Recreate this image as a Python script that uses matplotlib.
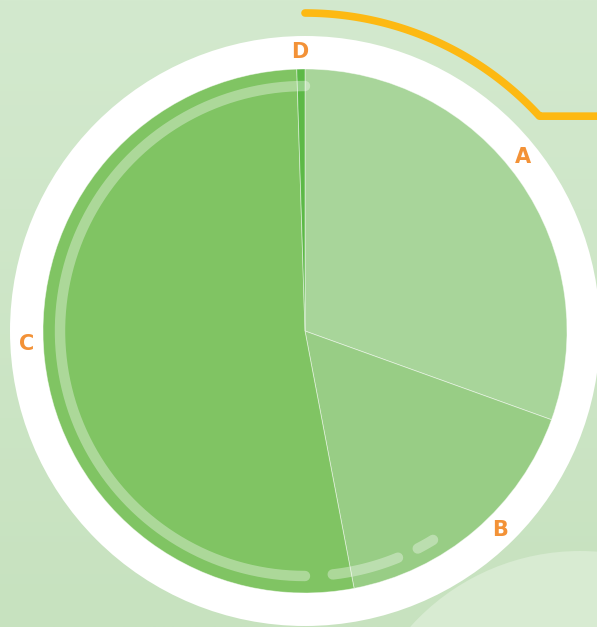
import numpy as np
import matplotlib.pyplot as plt
from matplotlib.patches import Circle

# slice data, clockwise from the top
labels = ['A', 'B', 'C', 'D']
values = [30.5, 16.5, 52.5, 0.5]
colors = ['#a8d59a', '#98cd85', '#80c463', '#5cb947']
label_angles = [38.5, -45.6, 182.7, 91.0]  # where the labels sit round the ring

W, H = 597, 627
cx, cy = 305, H - 331
R = 262

fig = plt.figure(figsize=(W / 100, H / 100), dpi=100)
ax = fig.add_axes([0, 0, 1, 1])

# background gradient
grad = np.linspace(0, 1, 256).reshape(-1, 1)
top = np.array([0xd3, 0xe9, 0xce]) / 255
bot = np.array([0xc7, 0xe2, 0xbf]) / 255
img = top + (bot - top) * grad[..., None]
ax.imshow(img, extent=[0, W, 0, H], origin='upper', aspect='auto', zorder=0)

# faint blob bottom right
ax.add_patch(Circle((580, H - 779), 228, color='#d8ebd2', zorder=1, lw=0))

# white ring
ax.add_patch(Circle((cx, cy), 295, color='white', zorder=2, lw=0))

# orange decoration line
t = np.radians(np.linspace(90, 42.5, 80))
xs = list(cx + 318 * np.cos(t)) + [W + 5]
ys = list(cy + 318 * np.sin(t)) + [cy + 318 * np.sin(t[-1])]
ax.plot(xs, ys, color='#fdb913', lw=5.5, solid_capstyle='round', zorder=3)

wedges, texts = ax.pie(values, labels=labels, colors=colors, startangle=90,
                       counterclock=False, center=(cx, cy), radius=R,
                       labeldistance=279 / R, frame=True,
                       wedgeprops=dict(linewidth=0.6, edgecolor=(1, 1, 1, 0.5)),
                       textprops=dict(color='#f39237', fontsize=15, fontweight='bold'))
for w in wedges:
    w.set_zorder(4)
for tx, ang in zip(texts, label_angles):
    a = np.radians(ang)
    tx.set_position((cx + 279 * np.cos(a), cy + 279 * np.sin(a)))
    tx.set_zorder(6)
    tx.set_ha('center')
    tx.set_va('center')

# light dashed arc inside
rr = 245
arc_kw = dict(color='#ffffff', alpha=0.35, lw=7.5, zorder=5, solid_capstyle='round')
for a0, a1 in [(90, 270), (276.5, 292.3), (297.4, 301.5)]:
    t = np.radians(np.linspace(a0, a1, 100))
    ax.plot(cx + rr * np.cos(t), cy + rr * np.sin(t), **arc_kw)

ax.set_xlim(0, W)
ax.set_ylim(0, H)
ax.set_aspect('auto')
ax.axis('off')

plt.savefig('out.png', dpi=100)
